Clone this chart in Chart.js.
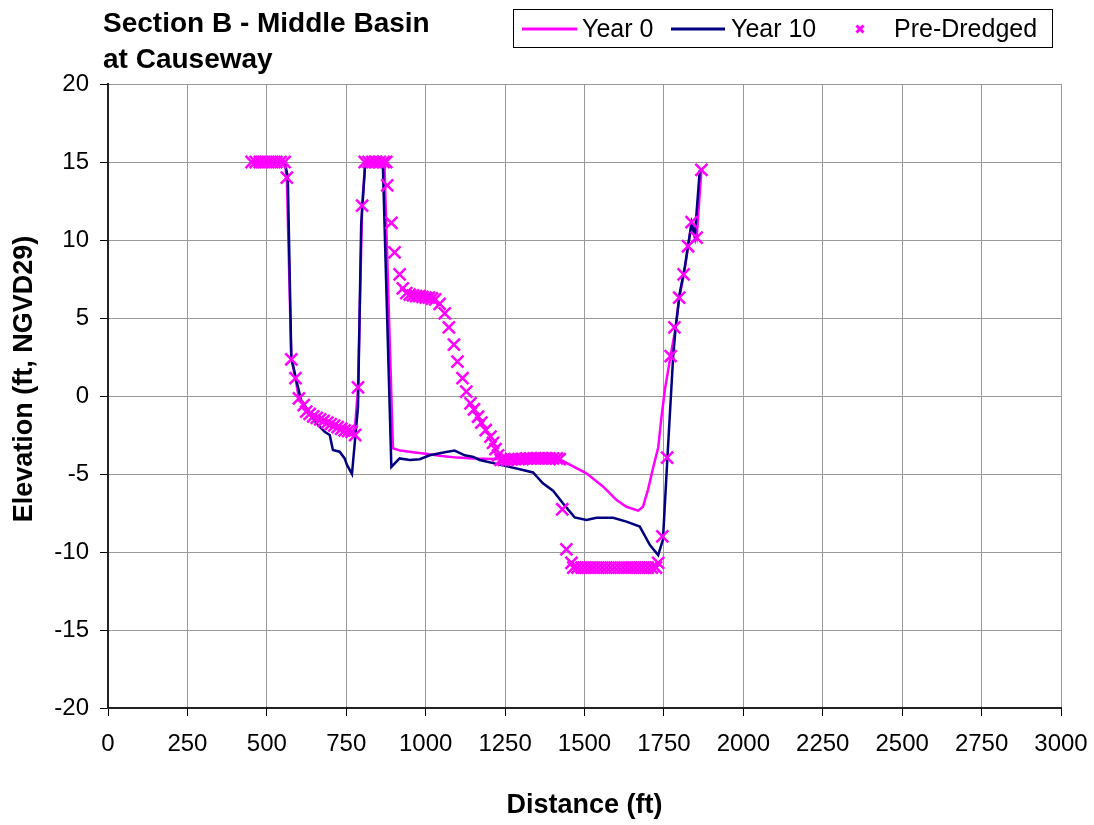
<!DOCTYPE html>
<html>
<head>
<meta charset="utf-8">
<title>Section B - Middle Basin at Causeway</title>
<script src="https://cdn.jsdelivr.net/npm/chart.js@4.4.0/dist/chart.umd.min.js"></script>
<style>
  html, body { margin: 0; padding: 0; background: #fff; }
  #contenedor { width: 1094px; height: 825px; position: relative; }
</style>
</head>
<body>
<div id="contenedor"><canvas id="miGrafico" width="1094" height="825"></canvas></div>
<script>
// valores
var tituloLineas = ['Section B - Middle Basin', 'at Causeway'];
var xTicks = [0, 250, 500, 750, 1000, 1250, 1500, 1750, 2000, 2250, 2500, 2750, 3000];
var yTicks = [-20, -15, -10, -5, 0, 5, 10, 15, 20];

var year0X = [452, 556, 563, 577, 590, 601, 616, 624, 700, 776, 787, 800, 810, 870, 897, 920, 960, 1000, 1050, 1100, 1150, 1250, 1422,
    1506, 1558, 1601, 1632, 1669, 1684, 1700, 1716, 1732, 1742, 1753, 1771, 1787, 1798, 1813, 1826, 1837, 1853, 1868];
var year0Y = [15, 15, 14, 2.4, 1.15, -0.15, -0.6, -1.0, -1.8, -2.45, 0.5, 12.2, 15, 15, -3.35, -3.5, -3.6, -3.7, -3.85, -3.95, -4.0, -4.05, -4.06,
    -4.96, -5.8, -6.67, -7.1, -7.35, -7.1, -6.0, -4.6, -3.3, -1.4, 0.4, 2.56, 4.4, 6.3, 7.8, 9.6, 11.1, 10.15, 14.5];

var year10X = [452, 556, 566, 577, 593, 608, 635, 656, 682, 698, 708, 729, 745, 752, 768, 787, 797, 810, 865, 892, 918, 950, 981, 1013,
    1060, 1091, 1123, 1150, 1170, 1233, 1296, 1338, 1369, 1401, 1432, 1469, 1506, 1538, 1590, 1632, 1674, 1706, 1732, 1747, 1761,
    1779, 1787, 1800, 1816, 1837, 1847, 1863];
var year10Y = [15, 15, 14.06, 2.5, 1.0, -0.26, -1.1, -1.75, -2.3, -2.5, -3.46, -3.57, -4.0, -4.4, -5.0, -0.7, 11, 15, 15, -4.55, -4.0, -4.1, -4.05, -3.8,
    -3.6, -3.5, -3.8, -3.9, -4.1, -4.4, -4.7, -4.9, -5.6, -6.07, -6.88, -7.78, -7.95, -7.8, -7.8, -8.05, -8.37, -9.55, -10.2, -9.2, -3.95,
    2.5, 4.4, 6.6, 8.3, 11.07, 10.2, 14.5];

var preX = [452, 465, 478, 491, 504, 517, 530, 543, 556, 563, 577, 590, 601, 616,
    624, 635, 646, 657, 668, 679, 690, 701, 712, 723, 734, 745, 756, 767, 778,
    787, 800, 808, 820, 832, 844, 856, 868, 876, 879, 892, 902, 918, 928,
    939, 950, 960, 970, 980, 990, 1000, 1010, 1020, 1030, 1044, 1060, 1073, 1089, 1100, 1116, 1128, 1141, 1152, 1165, 1175, 1189, 1204,
    1212, 1220, 1228, 1236, 1245, 1257, 1269, 1281, 1293, 1305, 1317, 1329, 1341, 1353, 1365, 1377, 1389, 1401, 1413, 1422,
    1430, 1443, 1459, 1465, 1478, 1491, 1504, 1517, 1530, 1543, 1556, 1569, 1582, 1595, 1608, 1621, 1634, 1647, 1660, 1673, 1686, 1699, 1712, 1725,
    1732, 1745, 1760, 1771, 1783, 1798, 1812, 1826, 1837, 1853, 1868];
var preY = [15, 15, 15, 15, 15, 15, 15, 15, 15, 14.0, 2.35, 1.15, -0.15, -0.58,
    -1.0, -1.15, -1.3, -1.4, -1.5, -1.6, -1.7, -1.8, -1.9, -2.0, -2.1, -2.2, -2.25, -2.3, -2.5,
    0.55, 12.2, 15, 15, 15, 15, 15, 15, 15, 13.5, 11.1, 9.2, 7.8, 6.9,
    6.6, 6.5, 6.45, 6.4, 6.4, 6.35, 6.3, 6.3, 6.25, 6.2, 5.9, 5.3, 4.4, 3.3, 2.2, 1.15, 0.28, -0.47, -0.85, -1.33, -1.71, -2.18, -2.6,
    -3.0, -3.4, -3.8, -4.1, -4.1, -4.1, -4.05, -4.05, -4.05, -4.05, -4.0, -4.0, -4.0, -4.0, -4.0, -4.0, -4.0, -4.0, -4.0, -4.05,
    -7.26, -9.83, -10.7, -11, -11, -11, -11, -11, -11, -11, -11, -11, -11, -11, -11, -11, -11, -11, -11, -11, -11, -11, -11, -11,
    -10.7, -9.0, -3.95, 2.56, 4.4, 6.3, 7.8, 9.6, 11.15, 10.15, 14.5];

function puntos(xs, ys) {
    return xs.map(function (x, i) { return { x: x, y: ys[i] }; });
}

const FUENTE = '"Liberation Sans", Arial, sans-serif';
const MAGENTA = '#ff00ff';
const AZUL = '#000080';

// titulo, leyenda con borde y titulo del eje Y
const extras = {
    id: 'extras',
    afterDraw: function (chart) {
        var ctx = chart.ctx;
        ctx.save();
        ctx.fillStyle = '#000';
        ctx.textAlign = 'left';
        ctx.textBaseline = 'alphabetic';
        ctx.font = 'bold 28px ' + FUENTE;
        ctx.fillText(tituloLineas[0], 103, 32);
        ctx.fillText(tituloLineas[1], 103, 68);

        // leyenda
        ctx.strokeStyle = '#000';
        ctx.lineWidth = 1;
        ctx.strokeRect(513.5, 9.5, 539, 38);
        ctx.font = '25px ' + FUENTE;
        ctx.textBaseline = 'middle';
        var ly = 29;
        var ds = chart.data.datasets;
        ctx.lineWidth = 3;
        ctx.strokeStyle = ds[0].borderColor;
        ctx.beginPath(); ctx.moveTo(522, ly); ctx.lineTo(577, ly); ctx.stroke();
        ctx.fillText(ds[0].label, 582, ly + 1);
        ctx.strokeStyle = ds[1].borderColor;
        ctx.beginPath(); ctx.moveTo(671, ly); ctx.lineTo(725, ly); ctx.stroke();
        ctx.fillText(ds[1].label, 731, ly + 1);
        ctx.strokeStyle = ds[2].borderColor;
        Chart.helpers.drawPoint(ctx, { pointStyle: 'crossRot', radius: 5, borderWidth: 2.5 }, 860, ly);
        ctx.fillText(ds[2].label, 894, ly + 1);

        // titulo eje Y
        ctx.translate(25, 379);
        ctx.rotate(-Math.PI / 2);
        ctx.textAlign = 'center';
        ctx.font = 'bold 27px ' + FUENTE;
        ctx.fillText('Elevation (ft, NGVD29)', 0, 0);
        ctx.restore();
    }
};

function sinComas(v) { return String(v); }

let graficaLinea = new Chart(document.getElementById('miGrafico'), {
    type: 'scatter',
    data: {
        datasets: [{
            label: 'Year 0',
            type: 'line',
            data: puntos(year0X, year0Y),
            borderColor: MAGENTA,
            backgroundColor: MAGENTA,
            borderWidth: 2.5,
            pointRadius: 0,
            tension: 0,
            fill: false,
            order: 3
        }, {
            label: 'Year 10',
            type: 'line',
            data: puntos(year10X, year10Y),
            borderColor: AZUL,
            backgroundColor: AZUL,
            borderWidth: 2.5,
            pointRadius: 0,
            tension: 0,
            fill: false,
            order: 2
        }, {
            label: 'Pre-Dredged',
            data: puntos(preX, preY),
            showLine: false,
            pointStyle: 'crossRot',
            pointRadius: 8.5,
            pointBorderWidth: 2.5,
            borderColor: MAGENTA,
            backgroundColor: MAGENTA,
            order: 1
        }]
    },
    options: {
        responsive: false,
        animation: false,
        devicePixelRatio: 1,
        layout: { padding: { top: 84, right: 33, left: 0, bottom: 0 } },
        plugins: {
            legend: { display: false },
            title: { display: false },
            tooltip: { enabled: false }
        },
        scales: {
            x: {
                type: 'linear',
                min: 0,
                max: 3000,
                afterFit: function (s) { s.height = 117; s.paddingLeft = 0; s.paddingRight = 0; },
                afterBuildTicks: function (s) { s.ticks = xTicks.map(function (v) { return { value: v }; }); },
                ticks: {
                    color: '#000',
                    font: { family: FUENTE, size: 24 },
                    padding: 14,
                    maxRotation: 0,
                    autoSkip: false,
                    callback: sinComas
                },
                grid: { color: '#999', tickColor: '#000', tickLength: 8, lineWidth: 1 },
                border: { color: '#222', width: 2 },
                title: {
                    display: true,
                    text: 'Distance (ft)',
                    color: '#000',
                    font: { family: FUENTE, size: 27, weight: 'bold' },
                    padding: { top: 3, bottom: 3 }
                }
            },
            y: {
                min: -20,
                max: 20,
                afterFit: function (s) { s.width = 108; s.paddingTop = 0; s.paddingBottom = 0; },
                afterBuildTicks: function (s) { s.ticks = yTicks.map(function (v) { return { value: v }; }); },
                ticks: {
                    color: '#000',
                    font: { family: FUENTE, size: 24 },
                    padding: 11,
                    callback: sinComas
                },
                grid: { color: '#999', tickColor: '#000', tickLength: 8, lineWidth: 1 },
                border: { color: '#222', width: 2 }
            }
        }
    },
    plugins: [extras]
});
</script>
</body>
</html>
